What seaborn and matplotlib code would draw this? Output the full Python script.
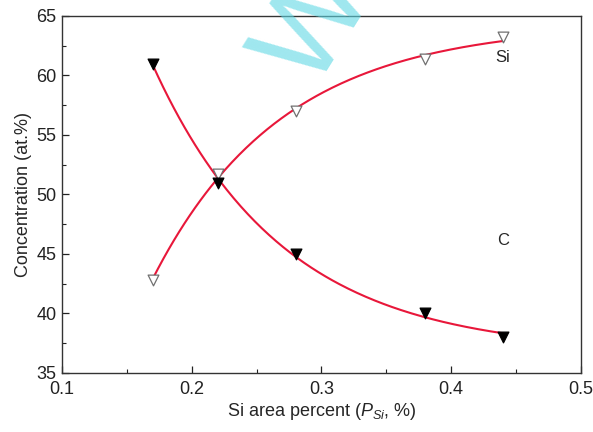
import numpy as np
import pandas as pd
import matplotlib
matplotlib.use('Agg')
import matplotlib.pyplot as plt
import seaborn as sns
from matplotlib.ticker import MultipleLocator

# --- dados ---
area_si = [0.17, 0.22, 0.28, 0.38, 0.44]
conc_si = [42.8, 51.7, 57.0, 61.4, 63.2]
conc_c = [61.0, 51.0, 45.0, 40.0, 38.0]

sns.set_style('white')
plt.rcParams['font.family'] = ['Liberation Sans', 'DejaVu Sans']
plt.rcParams['mathtext.fontset'] = 'custom'
plt.rcParams['mathtext.rm'] = 'Liberation Sans'
plt.rcParams['mathtext.it'] = 'Liberation Sans:italic'


# ajuste exponencial y = y0 + A*exp(-x/t) (busca em t, mínimos quadrados no resto)
def ajuste_exp(x, y):
    x = np.asarray(x)
    y = np.asarray(y)
    melhor = None
    for t in np.linspace(0.02, 1.0, 2000):
        M = np.column_stack([np.ones_like(x), np.exp(-x / t)])
        coef, *_ = np.linalg.lstsq(M, y, rcond=None)
        res = np.sum((M @ coef - y) ** 2)
        if melhor is None or res < melhor[0]:
            melhor = (res, t, coef)
    _, t, coef = melhor
    return lambda xx: coef[0] + coef[1] * np.exp(-xx / t)


xx = np.linspace(min(area_si), max(area_si), 200)
f_si = ajuste_exp(area_si, conc_si)
f_c = ajuste_exp(area_si, conc_c)

df_pts = pd.DataFrame({'x': area_si, 'si': conc_si, 'c': conc_c})
df_fit = pd.DataFrame({'x': xx, 'si': f_si(xx), 'c': f_c(xx)})

fig = plt.figure(figsize=(5.93, 4.32), dpi=100)
ax = fig.add_axes([0.1046, 0.137, 0.875, 0.826])

# marca d'água ciano no topo (parcialmente cortada, como no original)
fig.text(0.534, 0.94, 'W', fontsize=88, color='#5fd8e4', alpha=0.6, rotation=58,
         rotation_mode='anchor', ha='center', va='center', zorder=5)

sns.lineplot(data=df_fit, x='x', y='si', ax=ax, color='#e8173a', lw=1.5)
sns.lineplot(data=df_fit, x='x', y='c', ax=ax, color='#e8173a', lw=1.5)
sns.scatterplot(data=df_pts, x='x', y='si', ax=ax, marker='v', s=60,
                facecolor='white', edgecolor='#707070', linewidth=0.9, zorder=3)
sns.scatterplot(data=df_pts, x='x', y='c', ax=ax, marker='v', s=60,
                color='black', edgecolor='black', linewidth=0.9, zorder=3)

ax.text(0.44, 61.5, 'Si', fontsize=12, ha='center', va='center')
ax.text(0.44, 46.1, 'C', fontsize=12, ha='center', va='center')

ax.set_xlim(0.1, 0.5)
ax.set_ylim(35, 65)
ax.xaxis.set_major_locator(MultipleLocator(0.1))
ax.xaxis.set_minor_locator(MultipleLocator(0.05))
ax.yaxis.set_major_locator(MultipleLocator(5))
ax.yaxis.set_minor_locator(MultipleLocator(2.5))
ax.tick_params(which='both', direction='in', bottom=True, left=True,
               top=False, right=False, labelsize=13, colors='#222222')
ax.tick_params(which='major', length=5, width=0.9)
ax.tick_params(which='minor', length=3, width=0.8)
ax.tick_params(axis='x', pad=6)
ax.tick_params(axis='y', pad=4)
for s in ax.spines.values():
    s.set_color('#333333')
    s.set_linewidth(1.0)

ax.set_xlabel('Si area percent ($P_{Si}$, %)', fontsize=13, labelpad=2)
ax.set_ylabel('Concentration (at.%)', fontsize=13, labelpad=3)
ax.xaxis.set_major_formatter(matplotlib.ticker.FormatStrFormatter('%g'))

fig.savefig('out.png', dpi=100)
